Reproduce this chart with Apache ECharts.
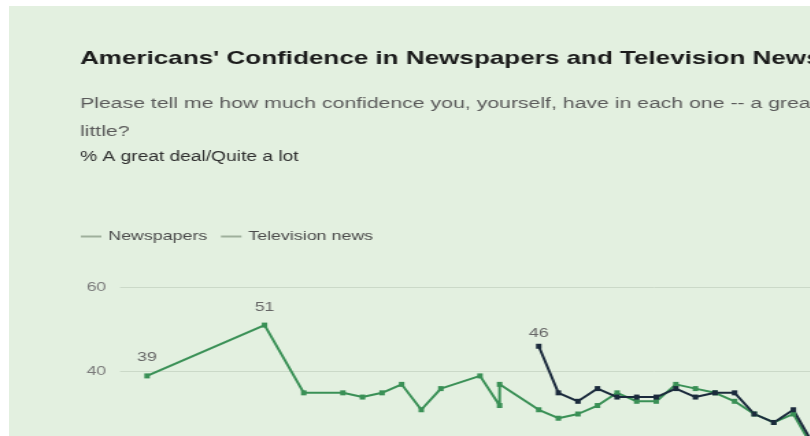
<!DOCTYPE html>
<html>
<head>
<meta charset="utf-8">
<script src="https://cdn.jsdelivr.net/npm/echarts@6/dist/echarts.min.js"></script>
<style>
  html, body { margin: 0; padding: 0; width: 810px; height: 436px; overflow: hidden; background: #ffffff; }
  #card { position: absolute; left: 9px; top: 6px; width: 1400px; height: 800px; background: #e3f0e0; }
  #chart { position: absolute; left: 0; top: 0; width: 900px; height: 620px;
           transform: scaleX(1.37); transform-origin: 0 0; }
</style>
</head>
<body>
<div id="card"></div>
<div id="chart"></div>
<script>
// ---- data ----
const titleText = "Americans' Confidence in Newspapers and Television News";
const subtitleLine1 = "Please tell me how much confidence you, yourself, have in each one -- a great deal, quite a lot, some or very";
const subtitleLine2 = "little?";
const measureText = "% A great deal/Quite a lot";
const seriesNames = ["Newspapers", "Television news"];

const newspaperYears = [1973, 1979, 1981, 1983, 1984, 1985, 1986, 1987, 1988, 1990, 1991, 1991, 1993, 1994, 1995, 1996, 1997, 1998, 1999, 2000, 2001, 2002, 2003, 2004, 2005, 2006, 2007];
const newspaperValues = [39, 51, 35, 35, 34, 35, 37, 31, 36, 39, 32, 37, 31, 29, 30, 32, 35, 33, 33, 37, 36, 35, 33, 30, 28, 30, 22];
const newspaperLabeled = [0, 1];

const tvYears = [1993, 1994, 1995, 1996, 1997, 1998, 1999, 2000, 2001, 2002, 2003, 2004, 2005, 2006, 2007];
const tvValues = [46, 35, 33, 36, 34, 34, 34, 36, 34, 35, 35, 30, 28, 31, 23];
const tvLabeled = [0];

const yTicks = [0, 20, 40, 60];

// ---- build ----
function build(years, values, labeled) {
  return years.map((y, i) => ({
    value: [y, values[i]],
    label: { show: labeled.indexOf(i) >= 0 }
  }));
}

const chart = echarts.init(document.getElementById('chart'), null, { renderer: 'canvas' });
const font = "'Liberation Sans', Arial, sans-serif";

chart.setOption({
  backgroundColor: 'transparent',
  animation: false,
  textStyle: { fontFamily: font },
  graphic: [
    { type: 'text', left: 58.4, top: 49, style: { text: titleText, font: "bold 19px " + font, fill: '#1a1a1a' } },
    { type: 'text', left: 58.4, top: 96, style: { text: subtitleLine1, font: "15.5px " + font, fill: '#5a5a5a' } },
    { type: 'text', left: 58.4, top: 124, style: { text: subtitleLine2, font: "15.5px " + font, fill: '#5a5a5a' } },
    { type: 'text', left: 58.4, top: 150, style: { text: measureText, font: "14px " + font, fill: '#2e2e2e' } }
  ],
  legend: {
    left: 59, top: 230, padding: 0,
    itemWidth: 15, itemHeight: 2, itemGap: 10,
    icon: 'rect',
    textStyle: { color: '#4a4a4a', fontSize: 13, fontFamily: font },
    data: seriesNames.map(n => ({ name: n, itemStyle: { color: '#9fb09c' } }))
  },
  grid: { left: 87.6, top: 287, width: 780, height: 254 },
  xAxis: {
    type: 'value', min: 1971.62, max: 2026.18,
    axisLine: { show: false }, axisTick: { show: false }, splitLine: { show: false },
    axisLabel: { show: false }
  },
  yAxis: {
    type: 'value', min: yTicks[0], max: yTicks[yTicks.length - 1], interval: 20,
    axisLine: { show: false }, axisTick: { show: false },
    splitLine: { lineStyle: { color: '#cbd9c8', width: 1 } },
    axisLabel: { color: '#7a7a7a', fontSize: 13, margin: 10, fontFamily: font }
  },
  series: [
    {
      name: seriesNames[0], type: 'line',
      data: build(newspaperYears, newspaperValues, newspaperLabeled),
      symbol: 'rect', symbolSize: [4, 5],
      lineStyle: { color: '#3a9056', width: 2 },
      itemStyle: { color: '#3a9056' },
      label: { position: 'top', distance: 9, color: '#666', fontSize: 13, fontFamily: font }
    },
    {
      name: seriesNames[1], type: 'line',
      data: build(tvYears, tvValues, tvLabeled),
      symbol: 'rect', symbolSize: [4, 5],
      lineStyle: { color: '#1b2a3c', width: 2 },
      itemStyle: { color: '#1b2a3c' },
      label: { position: 'top', distance: 4, color: '#666', fontSize: 13, fontFamily: font }
    }
  ]
});
</script>
</body>
</html>
